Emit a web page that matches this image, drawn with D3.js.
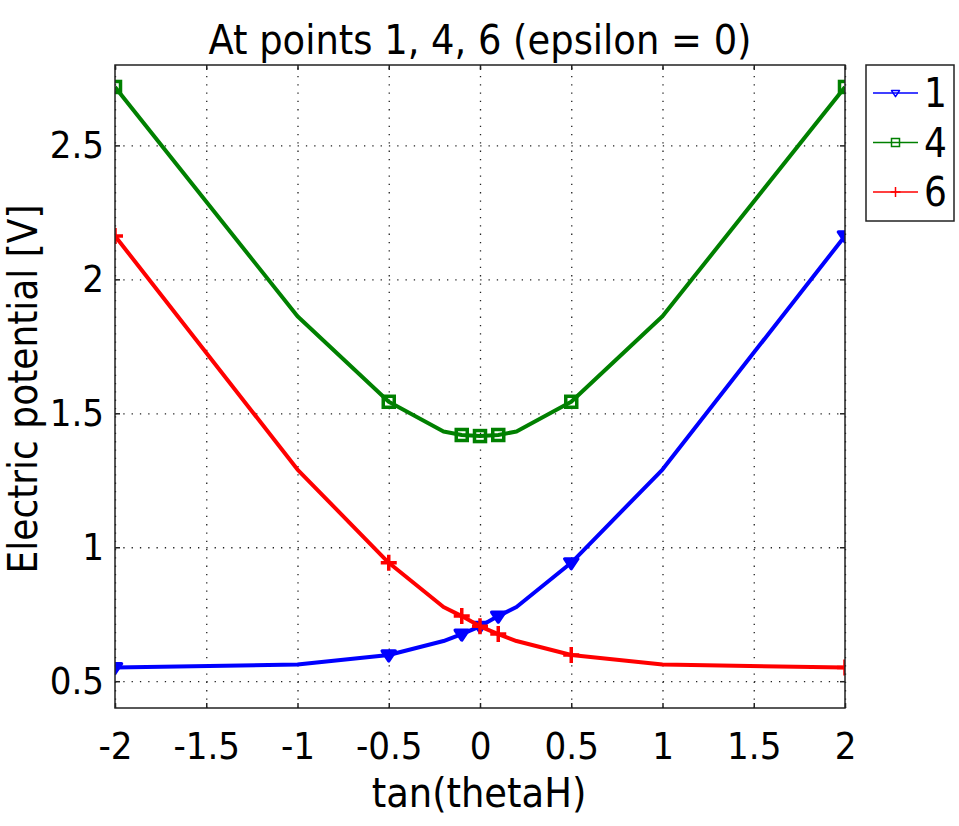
<!DOCTYPE html>
<html>
<head>
<meta charset="utf-8">
<script src="https://cdn.jsdelivr.net/npm/d3@7"></script>
<style>
  body { margin: 0; background: #fff; }
  text { font-family: "DejaVu Sans Condensed", "DejaVu Sans", sans-serif; fill: #000; }
</style>
</head>
<body>
<script>
// Data
var tanTheta = [-2, -1, -0.5, -0.2, -0.1, 0, 0.1, 0.2, 0.5, 1, 2];
var point1 = [0.551, 0.562, 0.598, 0.650, 0.676, 0.705, 0.743, 0.777, 0.942, 1.290, 2.162];
var point4 = [2.718, 1.862, 1.543, 1.432, 1.419, 1.415, 1.419, 1.432, 1.543, 1.862, 2.718];
var point6 = [2.162, 1.290, 0.942, 0.777, 0.743, 0.705, 0.676, 0.650, 0.598, 0.562, 0.551];
var markerAt = [-2, -0.5, -0.1, 0, 0.1, 0.5, 2];
var seriesNames = ["1", "4", "6"];
var xTicks = [-2, -1.5, -1, -0.5, 0, 0.5, 1, 1.5, 2];
var yTicks = [0.5, 1, 1.5, 2, 2.5];

window.onload = function() {
    var W = 959, H = 826;
    var m = { left: 115, top: 65, right: 845, bottom: 708 };

    var svg = d3.select("body").append("svg")
        .attr("width", W)
        .attr("height", H);

    var x = d3.scaleLinear().domain([-2, 2]).range([m.left, m.right]);
    var y = d3.scaleLinear().domain([0.4, 2.8]).range([m.bottom, m.top]);

    var fmt = function(d) { return String(d); };

    // dotted grid
    svg.append("g")
        .attr("transform", "translate(0," + m.bottom + ")")
        .call(d3.axisBottom(x).tickValues(xTicks).tickSize(-(m.bottom - m.top)).tickFormat(""))
        .call(g => g.select(".domain").remove())
        .selectAll("line")
        .attr("stroke", "#222")
        .attr("stroke-width", 1.3)
        .attr("stroke-dasharray", "1.3,7");

    svg.append("g")
        .attr("transform", "translate(" + m.left + ",0)")
        .call(d3.axisLeft(y).tickValues(yTicks).tickSize(-(m.right - m.left)).tickFormat(""))
        .call(g => g.select(".domain").remove())
        .selectAll("line")
        .attr("stroke", "#222")
        .attr("stroke-width", 1.3)
        .attr("stroke-dasharray", "1.3,7");

    // series
    svg.append("clipPath").attr("id", "plotclip")
        .append("rect")
        .attr("x", m.left).attr("y", m.top)
        .attr("width", m.right - m.left).attr("height", m.bottom - m.top);

    var series = [
        { name: seriesNames[0], values: point1, color: "#0000ff", marker: "tri" },
        { name: seriesNames[1], values: point4, color: "#008000", marker: "square" },
        { name: seriesNames[2], values: point6, color: "#ff0000", marker: "plus" }
    ];

    var line = d3.line()
        .x((d, i) => x(tanTheta[i]))
        .y(d => y(d));

    function drawMarker(g, type, color, size, sw, filled) {
        if (type === "tri") {
            var s = size;
            g.append("path")
                .attr("d", "M" + (-s) + "," + (-s * 0.6) + "L" + s + "," + (-s * 0.6) + "L0," + (s * 0.9) + "Z")
                .attr("fill", filled ? color : "none")
                .attr("stroke", color)
                .attr("stroke-width", sw)
                .attr("stroke-linejoin", "round");
        } else if (type === "square") {
            g.append("rect")
                .attr("x", -size).attr("y", -size)
                .attr("width", size * 2).attr("height", size * 2)
                .attr("fill", "none")
                .attr("stroke", color)
                .attr("stroke-width", sw);
        } else {
            g.append("path")
                .attr("d", "M" + (-size) + ",0L" + size + ",0M0," + (-size) + "L0," + size)
                .attr("fill", "none")
                .attr("stroke", color)
                .attr("stroke-width", sw);
        }
    }

    var plot = svg.append("g").attr("clip-path", "url(#plotclip)");

    series.forEach(function(s) {
        plot.append("path")
            .datum(s.values)
            .attr("d", line)
            .attr("fill", "none")
            .attr("stroke", s.color)
            .attr("stroke-width", 4)
            .attr("stroke-linejoin", "round");

        s.values.forEach(function(v, i) {
            if (markerAt.indexOf(tanTheta[i]) < 0) return;
            var g = plot.append("g")
                .attr("transform", "translate(" + x(tanTheta[i]) + "," + y(v) + ")");
            var size = s.marker === "plus" ? 8 : (s.marker === "tri" ? 6.5 : 5.5);
            drawMarker(g, s.marker, s.color, size, 3.5, true);
        });
    });

    // frame
    svg.append("rect")
        .attr("x", m.left).attr("y", m.top)
        .attr("width", m.right - m.left).attr("height", m.bottom - m.top)
        .attr("fill", "none")
        .attr("stroke", "#222")
        .attr("stroke-width", 1.5);

    // axes with inward ticks
    var axB = svg.append("g")
        .attr("transform", "translate(0," + m.bottom + ")")
        .call(d3.axisBottom(x).tickValues(xTicks).tickSize(-5).tickPadding(24).tickFormat(fmt));
    var axT = svg.append("g")
        .attr("transform", "translate(0," + m.top + ")")
        .call(d3.axisTop(x).tickValues(xTicks).tickSize(-5).tickFormat(""));
    var axL = svg.append("g")
        .attr("transform", "translate(" + m.left + ",0)")
        .call(d3.axisLeft(y).tickValues(yTicks).tickSize(-5).tickPadding(11).tickFormat(fmt));
    var axR = svg.append("g")
        .attr("transform", "translate(" + m.right + ",0)")
        .call(d3.axisRight(y).tickValues(yTicks).tickSize(-5).tickFormat(""));

    [axB, axT, axL, axR].forEach(function(a) {
        a.select(".domain").remove();
        a.selectAll("line").attr("stroke", "#222").attr("stroke-width", 1.5);
        a.selectAll("text").style("font-size", "38px").attr("fill", "#000");
    });

    // title and axis labels
    svg.append("text")
        .attr("x", 480).attr("y", 54)
        .attr("text-anchor", "middle")
        .style("font-size", "41px")
        .text("At points 1, 4, 6 (epsilon = 0)");

    svg.append("text")
        .attr("x", 479).attr("y", 807)
        .attr("text-anchor", "middle")
        .style("font-size", "41px")
        .text("tan(thetaH)");

    svg.append("text")
        .attr("transform", "translate(37,389) rotate(-90)")
        .attr("text-anchor", "middle")
        .style("font-size", "40px")
        .text("Electric potential [V]");

    // legend
    var lg = svg.append("g").attr("transform", "translate(866,65)");
    lg.append("rect")
        .attr("width", 88).attr("height", 156)
        .attr("fill", "#fff")
        .attr("stroke", "#222")
        .attr("stroke-width", 1.5);

    series.forEach(function(s, i) {
        var yy = 28 + i * 49.5;
        lg.append("line")
            .attr("x1", 7).attr("x2", 52)
            .attr("y1", yy).attr("y2", yy)
            .attr("stroke", s.color)
            .attr("stroke-width", 1.5);
        var mg = lg.append("g").attr("transform", "translate(29.5," + yy + ")");
        drawMarker(mg, s.marker, s.color, s.marker === "plus" ? 5 : 4, 1.5, false);
        lg.append("text")
            .attr("x", 58).attr("y", yy + 14)
            .style("font-size", "40px")
            .text(s.name);
    });
};
</script>
</body>
</html>
